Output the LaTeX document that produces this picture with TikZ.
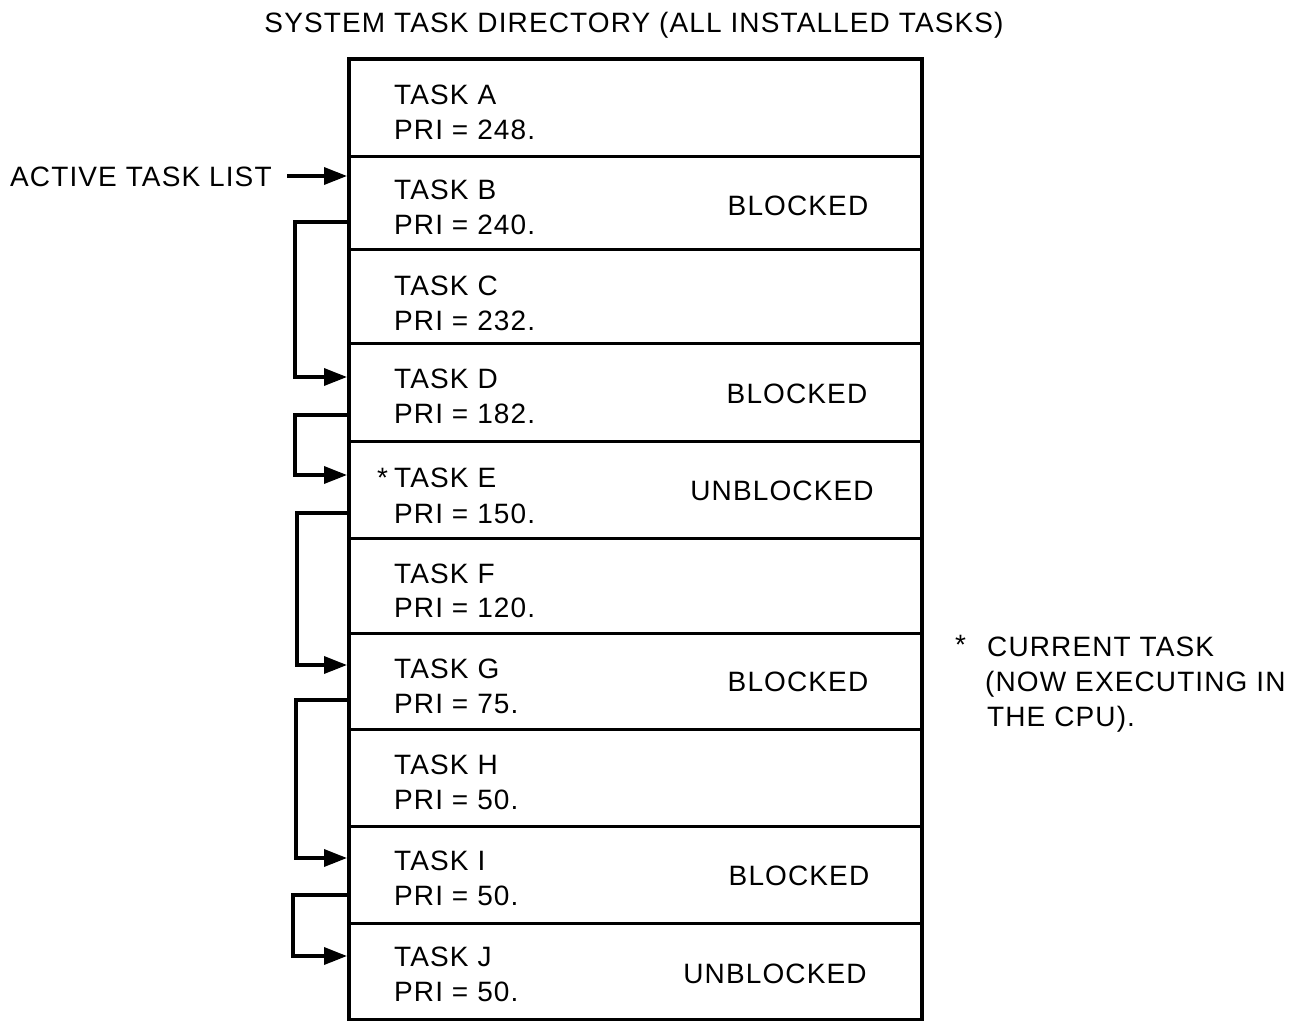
\documentclass[tikz,border=0pt]{standalone}
\usepackage{fontspec}
\setmainfont{Liberation Sans}[LetterSpace=4]
\usetikzlibrary{arrows.meta}
\begin{document}
\begin{tikzpicture}[x=1pt,y=-1pt,
  lbl/.style={font=\fontsize{28}{34}\selectfont, inner sep=0pt, anchor=base west},
  stat/.style={font=\fontsize{28}{34}\selectfont, inner sep=0pt, anchor=base},
  rowbox/.style={draw, line width=2.8pt, anchor=north west, minimum width=573pt, inner sep=0pt},
  link/.style={line width=3.5pt, -{Triangle[length=23pt,width=17pt]}},
]
\useasboundingbox (0,0) rectangle (1298,1020);
% title
\node[stat] (title) at (634,32) {SYSTEM TASK DIRECTORY (ALL INSTALLED TASKS)};
% rows
\foreach \n/\t/\h in {A/57/98,B/155/93,C/248/94,D/342/98,E/440/97,F/537/95,G/632/96,H/728/97,I/825/97,J/922/96}
  \node[rowbox, minimum height=\h pt] (row\n) at (347,\t) {};
\node[draw, line width=4pt, anchor=north west, minimum width=573pt, minimum height=961pt, inner sep=0pt] (dir) at (347,57) {};
% task labels
\foreach \n/\a/\b/\p in {A/104/139/248,B/199/234/240,C/295/330/232,D/388/423/182,E/487/523/150,F/583/617/120,G/678/713/75,H/774/809/50,I/870/905/50,J/966/1001/50}{
  \node[lbl] (task\n) at (394,\a) {TASK \n};
  \node[lbl] (pri\n) at (394,\b) {PRI = \p.};
}
\node[lbl] (star) at (377,487) {*};
% status labels
\node[stat] (stB) at (798,215) {BLOCKED};
\node[stat] (stD) at (797,403) {BLOCKED};
\node[stat] (stE) at (782,500) {UNBLOCKED};
\node[stat] (stG) at (798,691) {BLOCKED};
\node[stat] (stI) at (799,885) {BLOCKED};
\node[stat] (stJ) at (775,983) {UNBLOCKED};
% active task list
\node[lbl] (atl) at (10,186) {ACTIVE TASK LIST};
\coordinate (atlEnd) at (287,176);
\coordinate (bIn) at (347,176);
\draw[link] (atlEnd) -- (bIn);
% chain
\coordinate (bOut) at (347,222);
\coordinate (dIn) at (347,377);
\coordinate (dOut) at (347,415);
\coordinate (eIn) at (347,475);
\coordinate (eOut) at (347,513);
\coordinate (gIn) at (347,665);
\coordinate (gOut) at (347,700);
\coordinate (iIn) at (347,858);
\coordinate (iOut) at (347,895);
\coordinate (jIn) at (347,956);
\draw[link] (bOut) -- ++(-52,0) |- (dIn);
\draw[link] (dOut) -- ++(-52,0) |- (eIn);
\draw[link] (eOut) -- ++(-50,0) |- (gIn);
\draw[link] (gOut) -- ++(-51,0) |- (iIn);
\draw[link] (iOut) -- ++(-54,0) |- (jIn);
% side note
\node[lbl] (nstar) at (955,654) {*};
\node[lbl] (n1) at (987,656) {CURRENT TASK};
\node[lbl] (n2) at (985,691) {(NOW EXECUTING IN};
\node[lbl] (n3) at (987,726) {THE CPU).};
\end{tikzpicture}
\end{document}
